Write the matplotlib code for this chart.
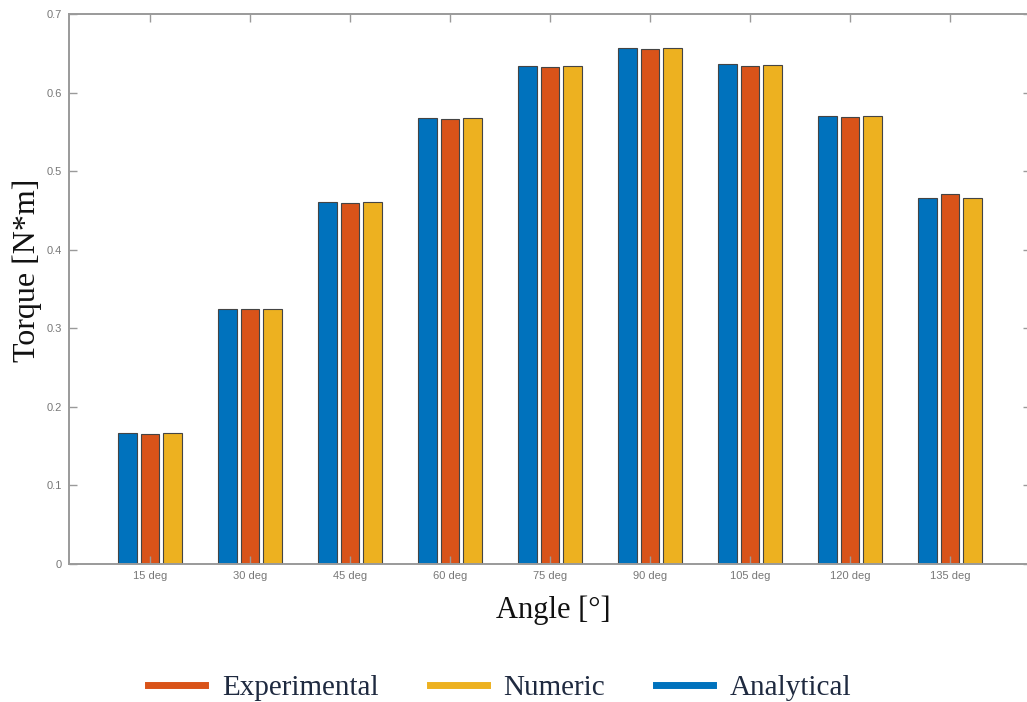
import numpy as np
import matplotlib
matplotlib.use('Agg')
import matplotlib.pyplot as plt
from matplotlib.lines import Line2D

angles = ['15 deg', '30 deg', '45 deg', '60 deg', '75 deg', '90 deg', '105 deg', '120 deg', '135 deg']
analytical = [0.167, 0.325, 0.461, 0.568, 0.634, 0.657, 0.636, 0.570, 0.466]
experimental = [0.166, 0.324, 0.459, 0.567, 0.633, 0.656, 0.634, 0.569, 0.471]
numeric = [0.167, 0.325, 0.461, 0.568, 0.634, 0.657, 0.635, 0.570, 0.466]

c_blue = '#0072BD'
c_orange = '#D95319'
c_yellow = '#EDB120'
axis_grey = '#9a9a9a'

fig = plt.figure(figsize=(10.27, 7.02), dpi=100)
ax = fig.add_axes([69 / 1027, 1 - 564 / 702, (1031 - 69) / 1027, (564 - 14) / 702])

x = np.arange(1, len(angles) + 1)
w = 0.185
off = 0.225
ax.bar(x - off, analytical, w, color=c_blue, edgecolor='#444444', linewidth=0.8)
ax.bar(x, experimental, w, color=c_orange, edgecolor='#444444', linewidth=0.8)
ax.bar(x + off, numeric, w, color=c_yellow, edgecolor='#444444', linewidth=0.8)

ax.set_xlim(0.19, 9.81)
ax.set_ylim(0, 0.7)
ax.set_xticks(x)
ax.set_xticklabels(angles)
ax.set_yticks(np.arange(0, 0.71, 0.1))
ax.set_yticklabels(['0', '0.1', '0.2', '0.3', '0.4', '0.5', '0.6', '0.7'])

for s in ax.spines.values():
    s.set_color(axis_grey)
    s.set_linewidth(1.4)
ax.tick_params(direction='in', length=6, width=1.0, color=axis_grey,
               top=True, right=True, labelsize=8, labelcolor='#777777', pad=5)
for lab in ax.get_xticklabels() + ax.get_yticklabels():
    lab.set_fontfamily('Liberation Sans')

serif = 'Liberation Serif'
fig.text(27 / 1027, 1 - 270 / 702, 'Torque [N*m]', rotation=90, ha='center', va='center',
         fontsize=23, family=serif, color='#111111')
fig.text(553 / 1027, 1 - 610 / 702, 'Angle [°]', ha='center', va='center',
         fontsize=22, family=serif, color='#111111')

handles = [Line2D([], [], color=c_orange, lw=5),
           Line2D([], [], color=c_yellow, lw=5),
           Line2D([], [], color=c_blue, lw=5)]
leg = fig.legend(handles, ['Experimental', 'Numeric', 'Analytical'],
                 loc='center', bbox_to_anchor=(500 / 1027, 1 - 688 / 702), ncol=3,
                 frameon=False, handlelength=1.95, handletextpad=0.58, columnspacing=1.75,
                 borderpad=0.2, prop={'family': serif, 'size': 21})
for t in leg.get_texts():
    t.set_color('#1f2a40')

fig.savefig('out.png', dpi=100)
